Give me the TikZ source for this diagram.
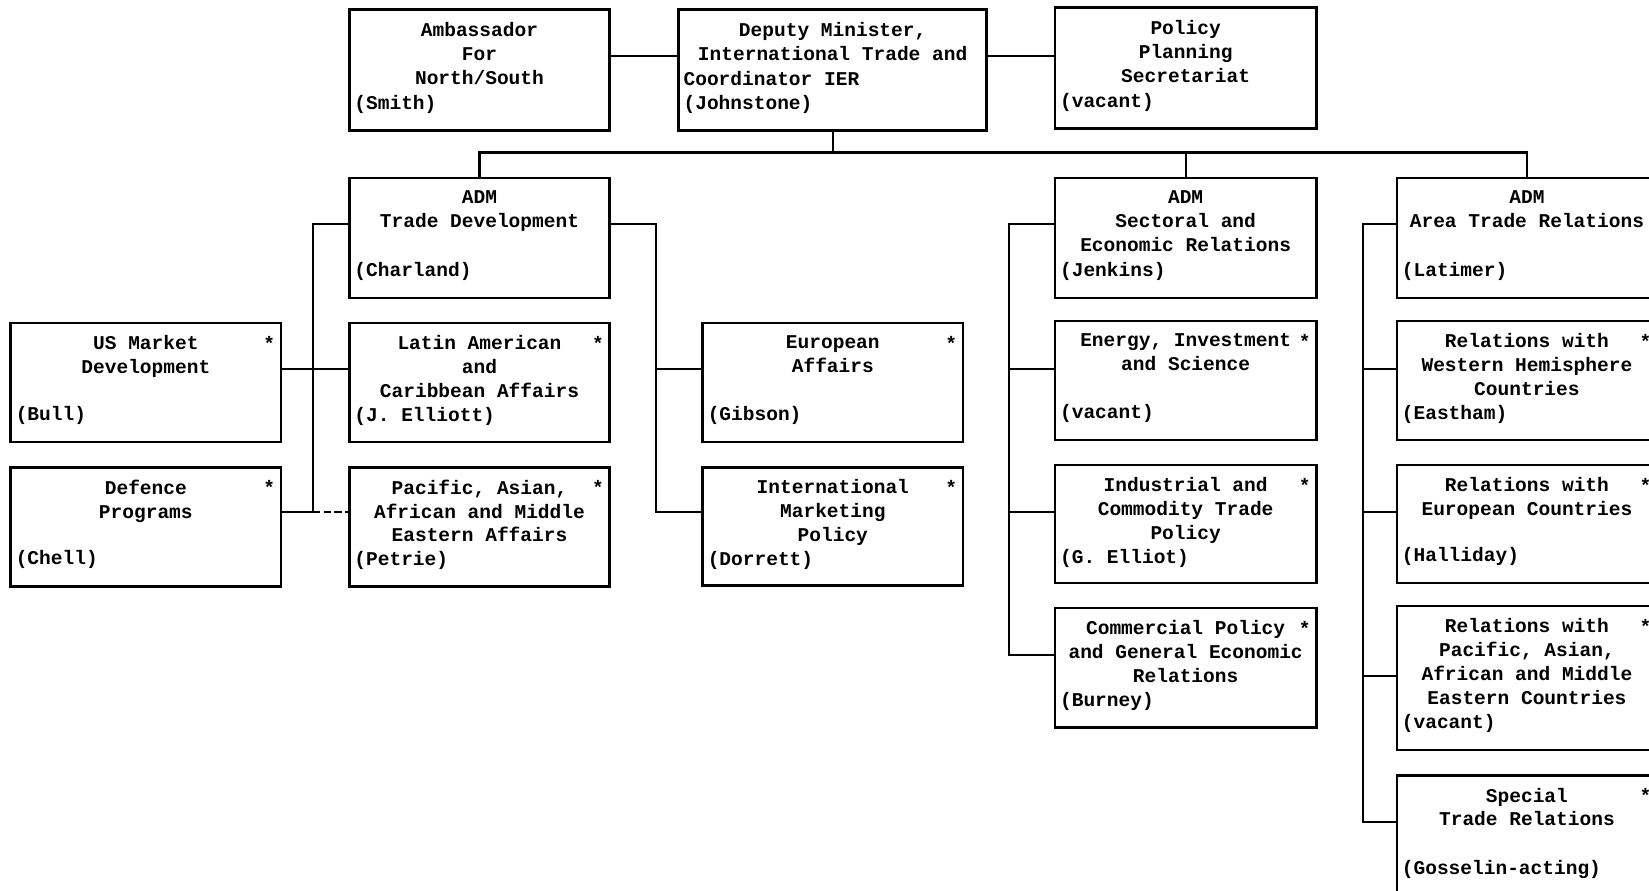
\documentclass[tikz,border=0pt]{standalone}
\usepackage{fontspec}
\setmonofont{Liberation Mono}
\usepackage{tikz}
\usetikzlibrary{positioning}

\newcommand{\orgtext}[4][5cm]{\parbox[c][#2][t]{#1}{\centering #3\par\vfill\raggedright #4\par\vspace*{2.7pt}}}

\begin{document}
\begin{tikzpicture}[x=0.021034cm, y=-0.021034cm]
                \tikzstyle{block} = [rectangle, draw, line width=1.5pt, anchor=north west,
                inner xsep=0.1cm, inner ysep=0.25cm,
                font=\ttfamily\bfseries\fontsize{11.1pt}{13.6pt}\selectfont]
                \tikzstyle{starred} = [label={[anchor=north east, inner sep=0pt, xshift=-3.8pt, yshift=-8pt,
                font=\ttfamily\bfseries\fontsize{11.1pt}{13.6pt}\selectfont]north east:*}]
                \tikzstyle{line} = [line width=1.2pt]

                \useasboundingbox (0,0) rectangle (1568,847);

                % top row
                \node [block] (amb) at (331,8) {\orgtext{1.92cm}{Ambassador\\For\\North/South}{(Smith)}};
                \node [block] (dm) at (644,8) {\orgtext[5.96cm]{1.92cm}{Deputy Minister,\\International Trade and}{Coordinator IER\\(Johnstone)}};
                \node [block] (pol) at (1002,6) {\orgtext[5.02cm]{1.92cm}{Policy\\Planning\\Secretariat}{(vacant)}};

                % assistant deputy ministers
                \node [block] (adm1) at (331,168) {\orgtext{1.9cm}{ADM\\Trade Development}{(Charland)}};
                \node [block] (adm2) at (1002,168) {\orgtext[5.02cm]{1.9cm}{ADM\\Sectoral and\\Economic Relations}{(Jenkins)}};
                \node [block] (adm3) at (1327,168) {\orgtext{1.9cm}{ADM\\Area Trade Relations}{(Latimer)}};

                % trade development
                \node [block, starred] (us) at (9,306) {\orgtext[5.2cm]{1.88cm}{US Market\\Development}{(Bull)}};
                \node [block, starred] (def) at (9,443) {\orgtext[5.2cm]{1.88cm}{Defence\\Programs}{(Chell)}};
                \node [block, starred] (lat) at (331,306) {\orgtext{1.88cm}{Latin American\\and\\Caribbean Affairs}{(J. Elliott)}};
                \node [block, starred] (pac) at (331,443) {\orgtext{1.88cm}{Pacific, Asian,\\African and Middle\\Eastern Affairs}{(Petrie)}};
                \node [block, starred] (eur) at (667,306) {\orgtext{1.88cm}{European\\Affairs}{(Gibson)}};
                \node [block, starred] (mkt) at (667,443) {\orgtext{1.86cm}{International\\Marketing\\Policy}{(Dorrett)}};

                % sectoral and economic relations
                \node [block, starred] (ene) at (1002,304) {\orgtext[5.02cm]{1.88cm}{Energy, Investment\\and Science}{(vacant)}};
                \node [block, starred] (ind) at (1002,441) {\orgtext[5.02cm]{1.86cm}{Industrial and\\Commodity Trade\\Policy}{(G. Elliot)}};
                \node [block, starred] (com) at (1002,577) {\orgtext[5.02cm]{1.88cm}{Commercial Policy\\and General Economic\\Relations}{(Burney)}};

                % area trade relations
                \node [block, starred] (wes) at (1327,304) {\orgtext{1.88cm}{Relations with\\Western Hemisphere\\Countries}{(Eastham)}};
                \node [block, starred] (euc) at (1327,441) {\orgtext{1.86cm}{Relations with\\European Countries}{(Halliday)}};
                \node [block, starred] (pcc) at (1327,575) {\orgtext{2.38cm}{Relations with\\Pacific, Asian,\\African and Middle\\Eastern Countries}{(vacant)}};
                \node [block, starred] (spc) at (1327,736) {\orgtext{1.9cm}{Special\\Trade Relations}{(Gosselin-acting)}};

                \coordinate (toprow) at (0,53);
                \coordinate (bus) at (0,145);
                \coordinate (r1) at (0,213);
                \coordinate (r2) at (0,351);
                \coordinate (r3) at (0,487);
                \coordinate (r4) at (0,623);
                \coordinate (r4b) at (0,643);
                \coordinate (r5) at (0,782);
                \coordinate (tdl) at (298,0);
                \coordinate (tdr) at (624,0);
                \coordinate (sec) at (959,0);
                \coordinate (area) at (1296,0);

                \draw [line] (amb.east |- toprow) -- (dm.west |- toprow);
                \draw [line] (dm.east |- toprow) -- (pol.west |- toprow);
                \draw [line] (dm) -- (dm |- bus);
                \draw [line] (adm1) -- (adm1 |- bus) -| (adm3);
                \draw [line] (adm2) -- (adm2 |- bus);

                \draw [line] (adm1.east |- r1) -| (tdr |- r3) -- (mkt.west |- r3);
                \draw [line] (tdr |- r2) -- (eur.west |- r2);
                \draw [line] (adm1.west |- r1) -| (tdl |- r3) -- (def.east |- r3);
                \draw [line] (us.east |- r2) -- (lat.west |- r2);
                \draw [line, dash pattern=on 4pt off 2pt] (tdl |- r3) -- (pac.west |- r3);

                \draw [line] (adm2.west |- r1) -| (sec |- r4) -- (com.west |- r4);
                \draw [line] (sec |- r2) -- (ene.west |- r2);
                \draw [line] (sec |- r3) -- (ind.west |- r3);

                \draw [line] (adm3.west |- r1) -| (area |- r5) -- (spc.west |- r5);
                \draw [line] (area |- r2) -- (wes.west |- r2);
                \draw [line] (area |- r3) -- (euc.west |- r3);
                \draw [line] (area |- r4b) -- (pcc.west |- r4b);
            \end{tikzpicture}
\end{document}
